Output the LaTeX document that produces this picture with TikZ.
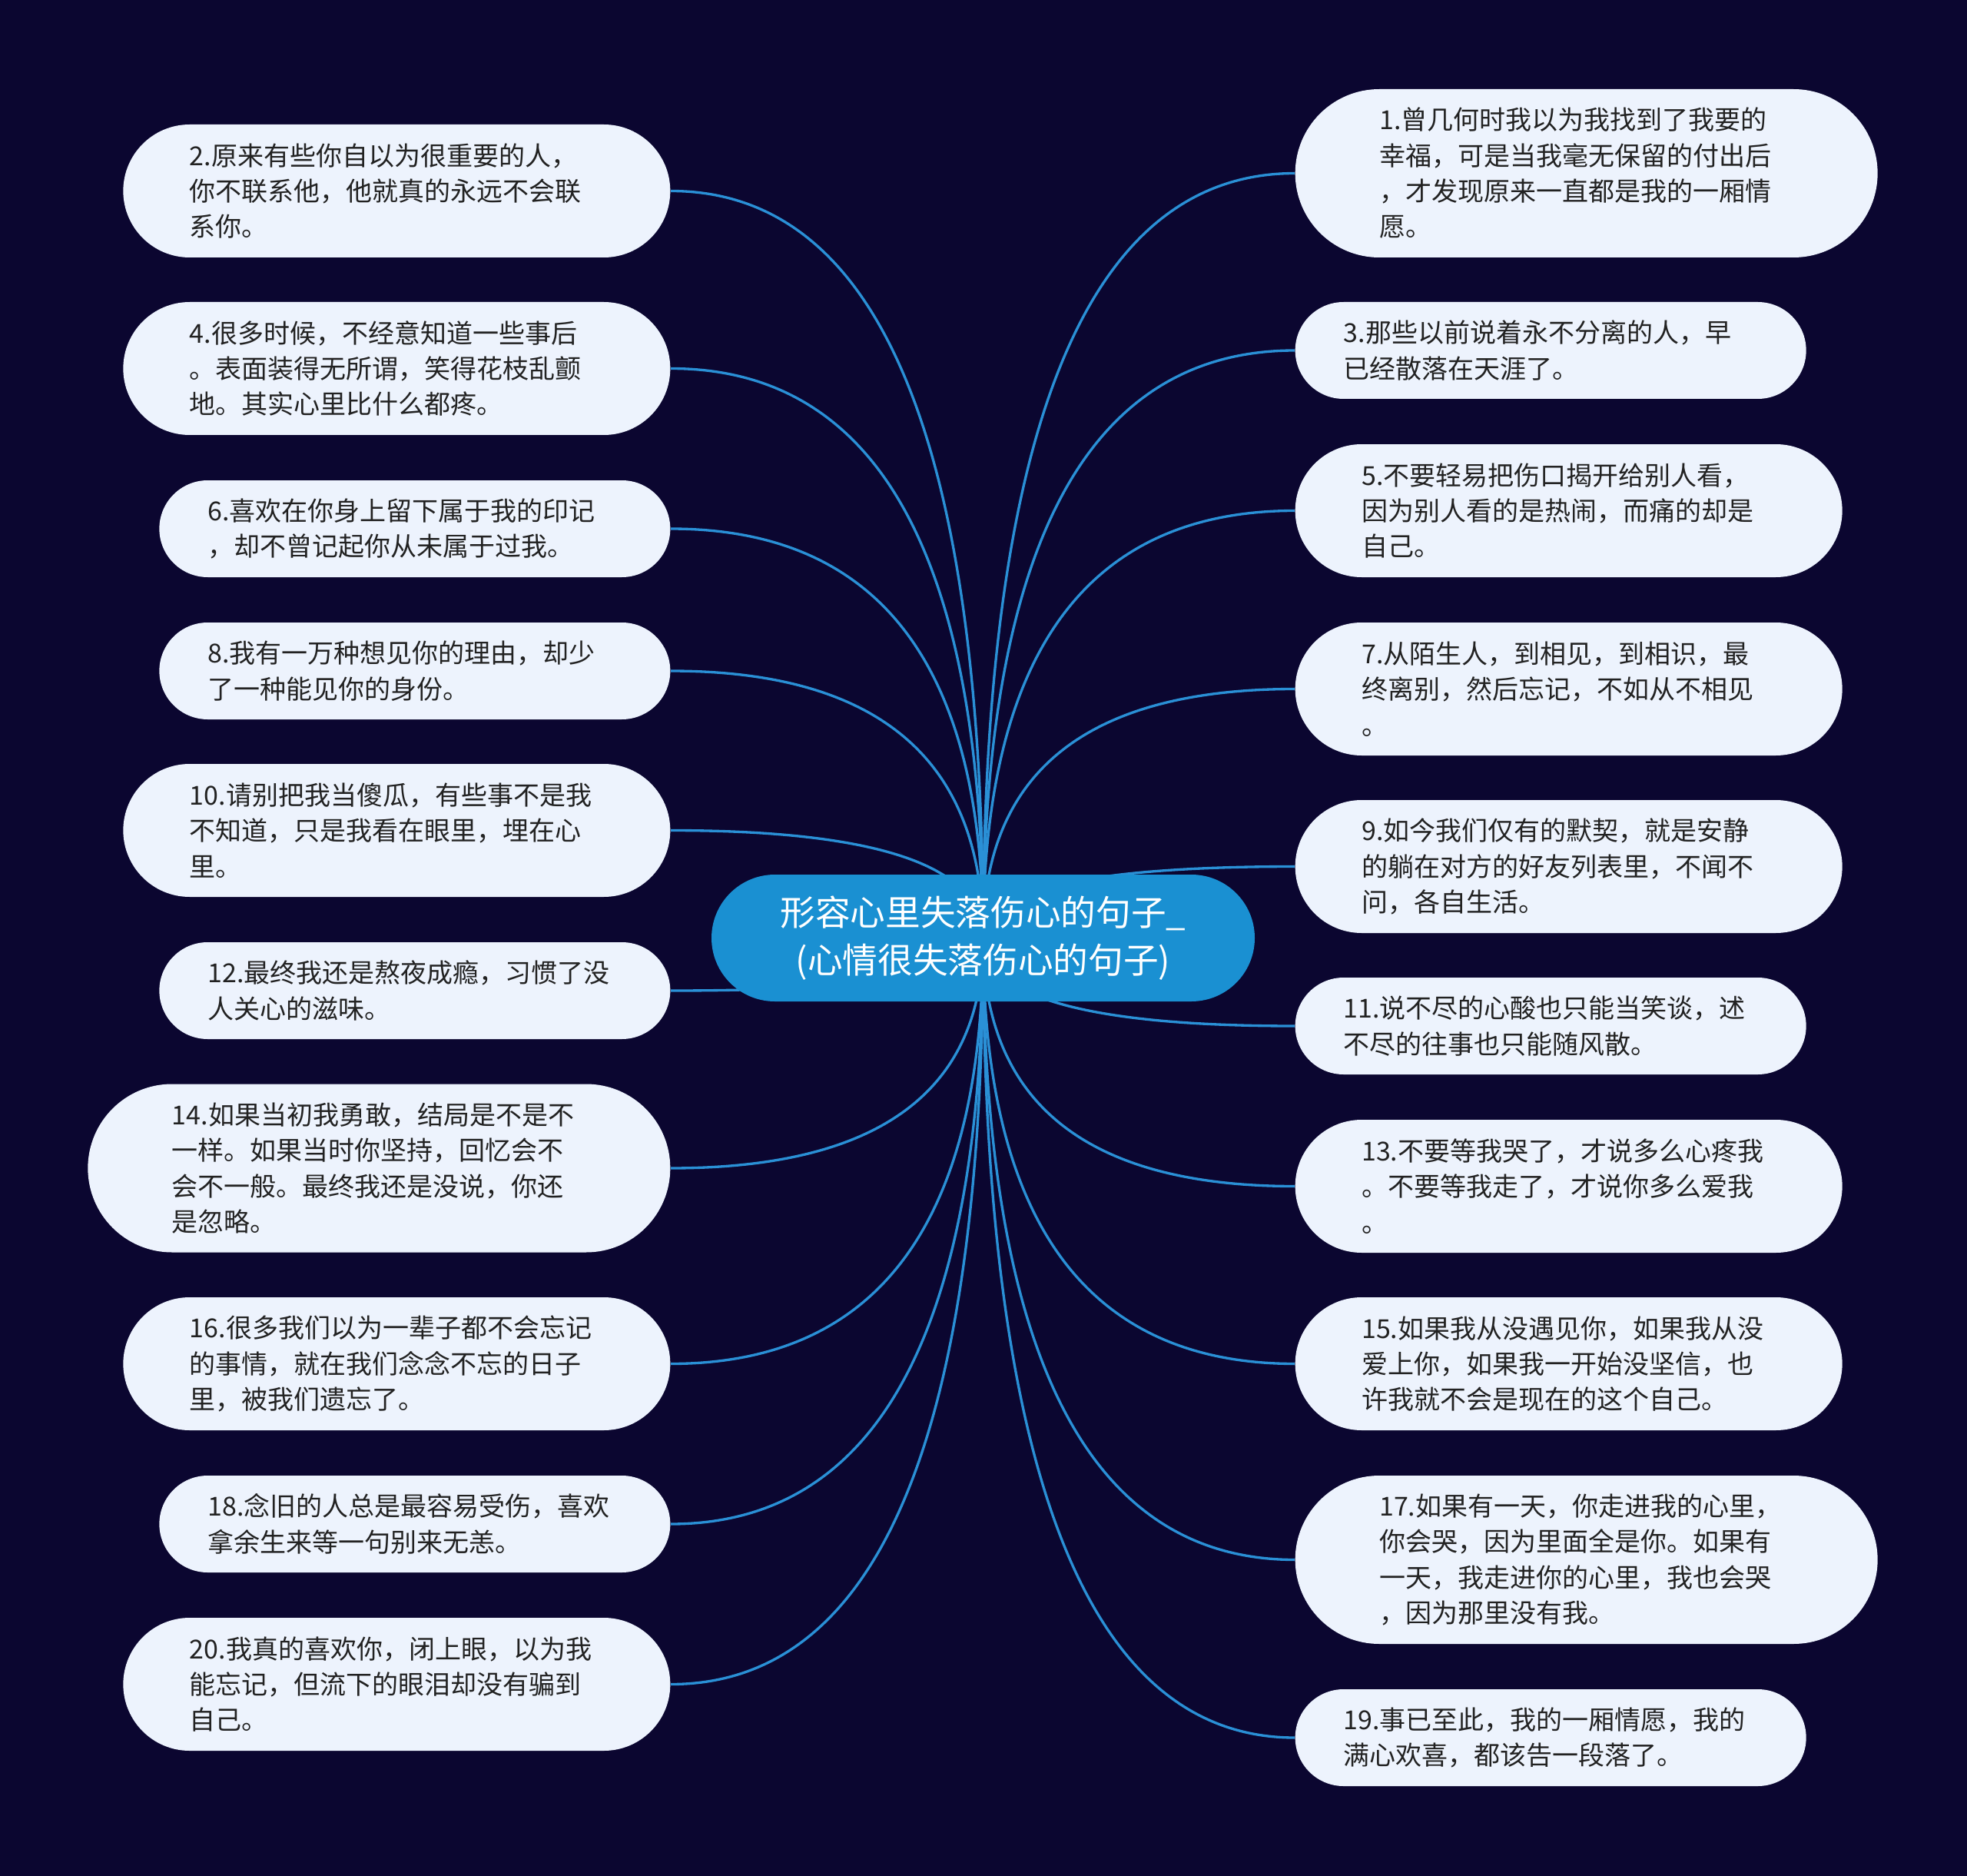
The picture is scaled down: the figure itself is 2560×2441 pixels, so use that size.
\documentclass[tikz,border=0pt]{standalone}
\usepackage{fontspec}
\setmainfont{Noto Sans CJK SC}
\usetikzlibrary{calc,backgrounds}
\definecolor{bgc}{HTML}{0B0630}
\definecolor{leaffill}{HTML}{EDF3FD}
\definecolor{leaftext}{HTML}{222222}
\definecolor{rootfill}{HTML}{1A90D2}
\definecolor{linkc}{HTML}{2A90D6}
\tikzset{
  leaf/.style={fill=leaffill, text=leaftext, font=\fontsize{10.2pt}{13.9pt}\selectfont,
    align=left, text width=161.7pt, inner ysep=0pt},
  leafA/.style={leaf, minimum height=37.8pt, inner xsep=18.9pt, rounded corners=18.9pt},
  leafB/.style={leaf, minimum height=51.9pt, inner xsep=25.95pt, rounded corners=25.95pt},
  leafC/.style={leaf, minimum height=65.7pt, inner xsep=32.85pt, rounded corners=32.85pt},
  rootnode/.style={fill=rootfill, text=white, font=\fontsize{13.7pt}{18.6pt}\selectfont,
    align=center, minimum width=212.1pt, minimum height=49.5pt, inner sep=0pt,
    rounded corners=24.75pt},
  link/.style={draw=linkc, line width=1pt}
}
\newcommand\linkto[2]{%
  \path (root.center |- #1.#2) coordinate (q);
  \draw[link] (root.center) .. controls ($(root.center)!0.6667!(q)$) and ($(#1.#2)!0.6667!(q)$) .. (#1.#2);}
\begin{document}
\begin{tikzpicture}[x=0.3pt,y=-0.3pt]
\begin{scope}[on background layer]
  \fill[bgc] (0,0) rectangle (2560,2441);
\end{scope}
\useasboundingbox (0,0) rectangle (2560,2441);

\node[rootnode] (root) at (1279.5,1220.5) {形容心里失落伤心的句子\_\\(心情很失落伤心的句子)};

% left column
\node[leafB, anchor=east] (L2) at (873,248.5) {2.原来有些你自以为很重要的人，\\你不联系他，他就真的永远不会联\\系你。};
\node[leafB, anchor=east] (L4) at (873,479.5) {4.很多时候，不经意知道一些事后\\。表面装得无所谓，笑得花枝乱颤\\地。其实心里比什么都疼。};
\node[leafA, anchor=east] (L6) at (873,688) {6.喜欢在你身上留下属于我的印记\\，却不曾记起你从未属于过我。};
\node[leafA, anchor=east] (L8) at (873,873) {8.我有一万种想见你的理由，却少\\了一种能见你的身份。};
\node[leafB, anchor=east] (L10) at (873,1080.5) {10.请别把我当傻瓜，有些事不是我\\不知道，只是我看在眼里，埋在心\\里。};
\node[leafA, anchor=east] (L12) at (873,1289) {12.最终我还是熬夜成瘾，习惯了没\\人关心的滋味。};
\node[leafC, anchor=east] (L14) at (873,1520) {14.如果当初我勇敢，结局是不是不\\一样。如果当时你坚持，回忆会不\\会不一般。最终我还是没说，你还\\是忽略。};
\node[leafB, anchor=east] (L16) at (873,1774.5) {16.很多我们以为一辈子都不会忘记\\的事情，就在我们念念不忘的日子\\里，被我们遗忘了。};
\node[leafA, anchor=east] (L18) at (873,1983) {18.念旧的人总是最容易受伤，喜欢\\拿余生来等一句别来无恙。};
\node[leafB, anchor=east] (L20) at (873,2191.5) {20.我真的喜欢你，闭上眼，以为我\\能忘记，但流下的眼泪却没有骗到\\自己。};

% right column
\node[leafC, anchor=west] (R1) at (1685,225.5) {1.曾几何时我以为我找到了我要的\\幸福，可是当我毫无保留的付出后\\，才发现原来一直都是我的一厢情\\愿。};
\node[leafA, anchor=west] (R3) at (1685,456) {3.那些以前说着永不分离的人，早\\已经散落在天涯了。};
\node[leafB, anchor=west] (R5) at (1685,664.5) {5.不要轻易把伤口揭开给别人看，\\因为别人看的是热闹，而痛的却是\\自己。};
\node[leafB, anchor=west] (R7) at (1685,896.5) {7.从陌生人，到相见，到相识，最\\终离别，然后忘记，不如从不相见\\。};
\node[leafB, anchor=west] (R9) at (1685,1127.5) {9.如今我们仅有的默契，就是安静\\的躺在对方的好友列表里，不闻不\\问，各自生活。};
\node[leafA, anchor=west] (R11) at (1685,1335) {11.说不尽的心酸也只能当笑谈，述\\不尽的往事也只能随风散。};
\node[leafB, anchor=west] (R13) at (1685,1543.5) {13.不要等我哭了，才说多么心疼我\\。不要等我走了，才说你多么爱我\\。};
\node[leafB, anchor=west] (R15) at (1685,1774.5) {15.如果我从没遇见你，如果我从没\\爱上你，如果我一开始没坚信，也\\许我就不会是现在的这个自己。};
\node[leafC, anchor=west] (R17) at (1685,2029.5) {17.如果有一天，你走进我的心里，\\你会哭，因为里面全是你。如果有\\一天，我走进你的心里，我也会哭\\，因为那里没有我。};
\node[leafA, anchor=west] (R19) at (1685,2261) {19.事已至此，我的一厢情愿，我的\\满心欢喜，都该告一段落了。};

\begin{scope}[on background layer]
  \foreach \n in {L2,L4,L6,L8,L10,L12,L14,L16,L18,L20} {\linkto{\n}{east}}
  \foreach \n in {R1,R3,R5,R7,R9,R11,R13,R15,R17,R19} {\linkto{\n}{west}}
\end{scope}
\end{tikzpicture}
\end{document}
